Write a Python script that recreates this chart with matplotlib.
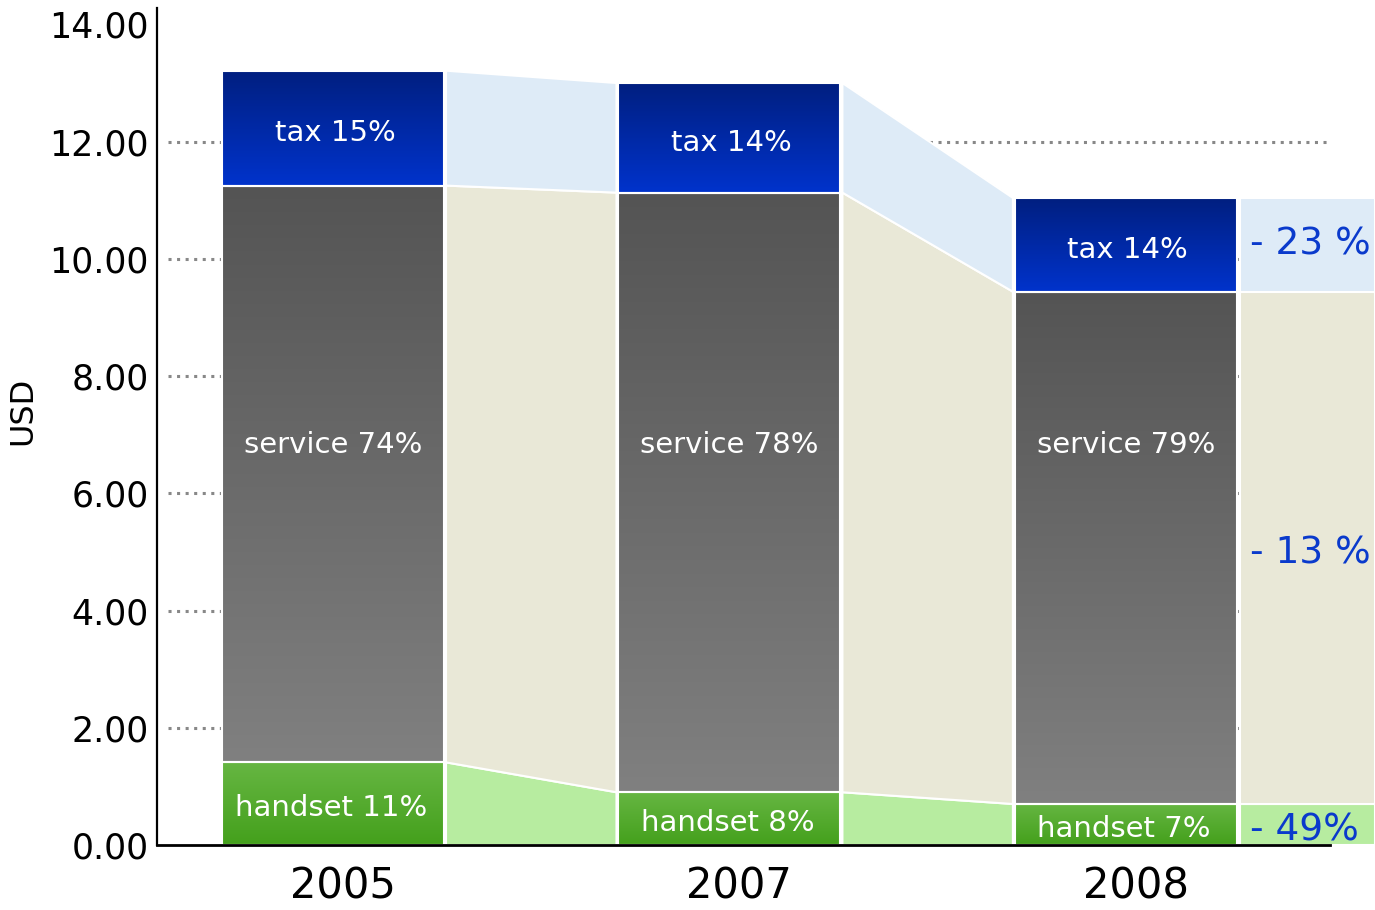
import matplotlib
matplotlib.use("Agg")
import matplotlib.pyplot as plt
import numpy as np
from matplotlib.colors import LinearSegmentedColormap
from matplotlib.patches import Rectangle, Polygon

# values (USD)
years = ["2005", "2007", "2008"]
handset = [1.41, 0.90, 0.70]
service = [9.84, 10.23, 8.74]
tax = [1.96, 1.87, 1.60]
labels_handset = ["handset 11%", "handset 8%", "handset 7%"]
labels_service = ["service 74%", "service 78%", "service 79%"]
labels_tax = ["tax 15%", "tax 14%", "tax 14%"]
change_labels = ["- 49%", "- 13 %", "- 23 %"]   # handset, service, tax
yticks = [0, 2, 4, 6, 8, 10, 12, 14]

GRAD = {
    "tax": ("#001f80", "#0033cc"),
    "service": ("#545454", "#808080"),
    "handset": ("#66b642", "#44a01c"),
}
FILL = {"tax": "#deebf7", "service": "#e9e8d7", "handset": "#b7eca0"}
CHANGE_BLUE = "#0a3acc"

W = 0.56
fig = plt.figure(figsize=(13.75, 9.1), dpi=100)
ax = fig.add_axes([0.1142, 0.0714, 0.8531, 0.9198])
XMIN, XMAX = -0.444, 2.515
YMAX = 14.28


def grad_rect(x0, x1, y0, y1, key):
    top, bot = GRAD[key]
    cmap = LinearSegmentedColormap.from_list(key, [bot, top])
    g = np.linspace(0, 1, 256).reshape(-1, 1)
    ax.imshow(g, extent=(x0, x1, y0, y1), origin="lower", cmap=cmap,
              aspect="auto", zorder=3, interpolation="bilinear")
    ax.add_patch(Rectangle((x0, y0), x1 - x0, y1 - y0, fill=False,
                           edgecolor="white", lw=1.5, zorder=4))


x = np.arange(len(years))
levels = []
for i in range(len(years)):
    b0 = 0
    b1 = handset[i]
    b2 = b1 + service[i]
    b3 = b2 + tax[i]
    levels.append((b0, b1, b2, b3))
    x0, x1 = x[i] - W / 2, x[i] + W / 2
    grad_rect(x0, x1, b0, b1, "handset")
    grad_rect(x0, x1, b1, b2, "service")
    grad_rect(x0, x1, b2, b3, "tax")
    cx = x[i]
    ax.text(cx - 0.005, b1 / 2 - 0.08, labels_handset[i], color="white",
            fontsize=21, ha="center", va="center", zorder=6)
    ax.text(cx, 6.83, labels_service[i], color="white",
            fontsize=21, ha="center", va="center", zorder=6)
    ax.text(cx + 0.005, (b2 + b3) / 2 - 0.08, labels_tax[i], color="white",
            fontsize=21, ha="center", va="center", zorder=6)

# connecting bands between bars
keys = ["handset", "service", "tax"]
for i in range(len(years) - 1):
    xa = x[i] + W / 2 + 0.005
    xb = x[i + 1] - W / 2 - 0.005
    la, lb = levels[i], levels[i + 1]
    for k, key in enumerate(keys):
        poly = Polygon([(xa, la[k]), (xb, lb[k]), (xb, lb[k + 1]), (xa, la[k + 1])],
                       closed=True, facecolor=FILL[key], edgecolor="white",
                       lw=1.5, zorder=2)
        ax.add_patch(poly)

# change column to the right of 2008
cx0 = x[-1] + W / 2 + 0.008
cx1 = 2.628
last = levels[-1]
for k, key in enumerate(keys):
    ax.add_patch(Rectangle((cx0, last[k]), cx1 - cx0, last[k + 1] - last[k],
                           facecolor=FILL[key], edgecolor="white", lw=1.5,
                           zorder=2, clip_on=False))
ax.text(cx0 + 0.025, last[0] + 0.24, change_labels[0], color=CHANGE_BLUE,
        fontsize=27, ha="left", va="center", clip_on=False, zorder=6)
ax.text(cx0 + 0.025, 4.98, change_labels[1], color=CHANGE_BLUE,
        fontsize=27, ha="left", va="center", clip_on=False, zorder=6)
ax.text(cx0 + 0.025, (last[2] + last[3]) / 2, change_labels[2], color=CHANGE_BLUE,
        fontsize=27, ha="left", va="center", clip_on=False, zorder=6)

# dotted guide lines
ax.hlines(yticks[1:-1], -0.416, 2.53, colors="#888888", lw=2.2,
          linestyles=[(0, (1, 1.8))], zorder=1)

ax.set_xlim(XMIN, XMAX)
ax.set_ylim(0, YMAX)
ax.set_yticks(yticks)
ax.set_yticklabels([f"{v:.2f}" for v in yticks], fontsize=25)
ax.set_xticks(x + 0.025)
ax.set_xticklabels(years, fontsize=30)
ax.tick_params(length=0, pad=6)
ax.tick_params(axis="x", pad=15)
fig.text(23 / 1375, 1 - 411 / 910, "USD", fontsize=23, rotation=90,
         ha="center", va="center")
for s in ["top", "right"]:
    ax.spines[s].set_visible(False)
ax.spines["left"].set_linewidth(1.6)
ax.spines["bottom"].set_linewidth(2)
ax.spines["bottom"].set_zorder(7)

fig.savefig("out.png", dpi=100)
